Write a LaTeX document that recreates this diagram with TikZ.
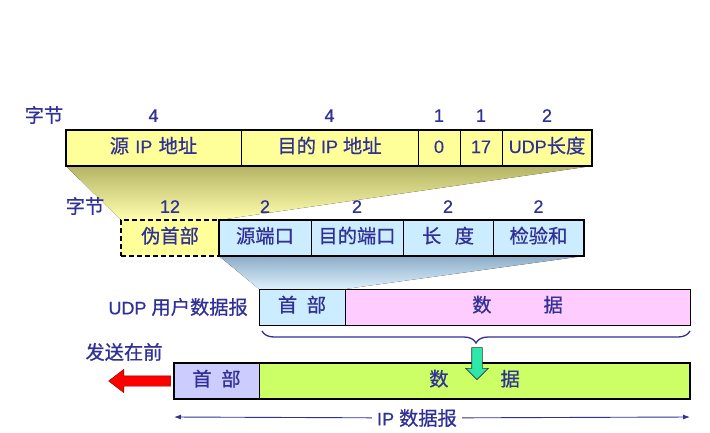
\documentclass[tikz,border=0pt]{standalone}
\usepackage{fontspec}
\setmainfont[FakeBold=0.4]{Liberation Sans}
\newfontfamily\cjk[Scale=1.07,FakeBold=0.7]{Noto Sans CJK SC}
\usetikzlibrary{positioning,arrows.meta,shapes.arrows,decorations.pathreplacing,backgrounds}
\definecolor{txtblue}{RGB}{48,48,150}
\definecolor{hdryellow}{RGB}{255,255,153}
\definecolor{hdrblue}{RGB}{204,236,255}
\definecolor{datapink}{RGB}{255,204,255}
\definecolor{iplilac}{RGB}{204,204,255}
\definecolor{ipgreen}{RGB}{204,255,102}
\definecolor{downgreen}{RGB}{45,232,168}
\begin{document}
\begin{tikzpicture}[x=1pt, y=-1pt,
  node distance=0pt,
  txt/.style={text=txtblue, font=\fontsize{18}{21}\selectfont, inner sep=0pt},
  zh/.style={font=\cjk\fontsize{18}{21}\selectfont},
  cell/.style={txt, rectangle, draw, line width=0.8pt, minimum height=36pt,
               text height=14pt, text depth=4pt, outer sep=0pt, anchor=west},
  ycell/.style={cell, fill=hdryellow},
  bcell/.style={cell, fill=hdrblue},
  frame/.style={draw, line width=2pt},
  num/.style={txt},
  arr/.style={draw=txtblue, line width=0.9pt, -{Latex[length=7pt,width=5pt]}}]
  \useasboundingbox (0,0) rectangle (710,432);
  \node[ycell, minimum width=175pt] (srcip) at (66,148) {{\cjk 源}\hspace{0.35em}IP\hspace{0.35em}{\cjk 地址}};
  \node[ycell, minimum width=177pt, right=of srcip] (dstip) {{\cjk 目的} IP {\cjk 地址}};
  \node[ycell, minimum width=42pt, right=of dstip] (zero) {0};
  \node[ycell, minimum width=42pt, right=of zero] (proto) {17};
  \node[ycell, minimum width=90pt, right=of proto] (udplen) {UDP{\cjk 长度}};
  \draw[frame] (srcip.north west) rectangle (udplen.south east);
  \node[txt, zh] (bytes1) at (44,115) {字节};
  \node[num, above=8pt of srcip] {4};
  \node[num, above=8pt of dstip] {4};
  \node[num, above=8pt of zero] {1};
  \node[num, above=8pt of proto] {1};
  \node[num, above=8pt of udplen] {2};
  \node[ycell, zh, minimum width=98pt, line width=1.6pt, dash pattern=on 5pt off 3pt] (pseudo) at (121,238) {伪首部};
  \node[bcell, zh, minimum width=92pt, right=of pseudo] (sport) {源端口};
  \node[bcell, zh, minimum width=92pt, right=of sport] (dport) {目的端口};
  \node[bcell, zh, minimum width=90pt, right=of dport] (len) {长\hspace{0.7em}度};
  \node[bcell, zh, minimum width=91pt, right=of len] (csum) {检验和};
  \draw[frame] (sport.north west) rectangle (csum.south east);
  \node[txt, zh] (bytes2) at (85,206) {字节};
  \node[num, above=7pt of pseudo] {12};
  \node[num, above=7pt of sport] {2};
  \node[num, above=7pt of dport] {2};
  \node[num, above=7pt of len] {2};
  \node[num, above=7pt of csum] {2};
  \node[bcell, zh, minimum width=86pt] (udphdr) at (259,307) {首\hspace{0.5em}部};
  \node[cell, zh, fill=datapink, minimum width=345pt, right=of udphdr] (udpdata) {数\hspace{52pt}据};
  \node[txt, left=11pt of udphdr] (udplab) {UDP {\cjk 用户数据报}};
  \coordinate (bl) at (262,331);
  \coordinate (br) at (690,331);
  \draw[txtblue, line width=1.3pt, decorate, decoration={brace, mirror, amplitude=12pt}] (bl) -- (br);
  \node[cell, zh, fill=iplilac, minimum width=85pt] (iphdr) at (174,381) {首\hspace{0.5em}部};
  \node[cell, zh, fill=ipgreen, minimum width=431pt, right=of iphdr] (ipdata) {数\hspace{52pt}据};
  \draw[frame] (iphdr.north west) rectangle (ipdata.south east);
  \node[single arrow, shape border rotate=270, draw=black!80, fill=downgreen, line width=0.6pt,
        minimum height=32pt, minimum width=22pt, inner sep=5pt, single arrow head extend=6pt] (down) at (477,361) {};
  \node[single arrow, shape border rotate=180, draw=red!50!black, fill=red, line width=0.4pt,
        minimum height=62pt, minimum width=23pt, inner sep=5pt, single arrow head extend=6.5pt,
        single arrow tip angle=75] (send) at (143,381) {};
  \node[txt, zh] (sendfirst) at (124,352) {发送在前};
  \node[txt, fill=white, inner xsep=5pt] (iplab) at (417,418) {IP {\cjk 数据报}};
  \coordinate (ipl) at (174,417);
  \coordinate (ipr) at (690,417);
  \draw[arr] (iplab) -- (ipl);
  \draw[arr] (iplab) -- (ipr);
  \begin{scope}[on background layer]
    \fill[top color={rgb,255:red,180;green,180;blue,100}, bottom color={rgb,255:red,255;green,255;blue,175}]
      (srcip.south west) -- (udplen.south east) -- (pseudo.north east) -- (pseudo.north west) -- cycle;
    \fill[top color={rgb,255:red,140;green,172;blue,200}, bottom color={rgb,255:red,222;green,240;blue,252}]
      (sport.south west) -- (csum.south east) -- (udphdr.north east) -- (udphdr.north west) -- cycle;
  \end{scope}
\end{tikzpicture}
\end{document}
